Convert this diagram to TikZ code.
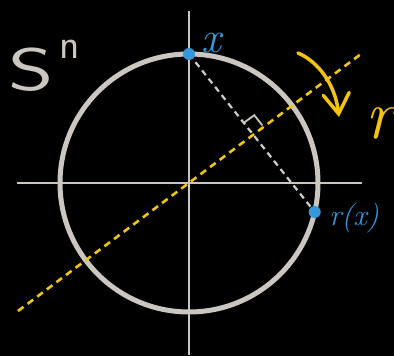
\documentclass[tikz,border=0pt]{standalone}
\usepackage{fontspec}
\usetikzlibrary{arrows.meta,calc}

\definecolor{chalk}{HTML}{CBC7C0}
\definecolor{ptblue}{HTML}{3399DD}
\definecolor{mirror}{HTML}{F2C40F}

\begin{document}
\begin{tikzpicture}[x=1pt,y=1pt,
    axis/.style={chalk,line width=2pt},
    sphere/.style={chalk,line width=5pt},
    hyper/.style={mirror,line width=2.6pt,dash pattern=on 7pt off 5pt},
    chord/.style={chalk!90!white,line width=2.2pt,dash pattern=on 6pt off 4.5pt},
    dot/.style={circle,fill=ptblue,inner sep=0pt,minimum size=12pt},
    bluelabel/.style={ptblue,inner sep=0pt,font=\itshape}]
  \fill[black] (-189,-173) rectangle (205,183);
  \useasboundingbox (-189,-173) rectangle (205,183);
  % axes
  \coordinate (O) at (0,0);
  \coordinate (W) at (-172,0);
  \coordinate (E) at (173,0);
  \coordinate (N) at (0,172);
  \coordinate (S) at (0,-172);
  \draw[axis] (W) -- (E);
  \draw[axis] (N) -- (S);
  % the sphere
  \draw[sphere] (O) circle (129);
  % reflecting hyperplane
  \coordinate (H1) at (-171,-128);
  \coordinate (H2) at (172,129);
  \draw[hyper] (H1) -- (H2);
  % x and its mirror image
  \coordinate (X) at (0,129);
  \coordinate (RX) at (-13:129);
  \draw[chord] (X) -- (RX);
  \coordinate (M) at ($(X)!0.5!(RX)$);
  \coordinate (U) at ($(M)!13pt!(X)$);
  \coordinate (V) at ($(M)!13pt!(H2)$);
  \coordinate (C) at ($(U)+(V)-(M)$);
  \draw[chalk,line width=1.8pt] (U) -- (C) -- (V);
  \node[dot] (x) at (X) {};
  \node[dot] (rx) at (RX) {};
  % labels
  \node[bluelabel] (xlab) at (22,140) {\fontsize{44}{44}\selectfont x};
  \node[bluelabel] (rxlab) at (165,-35) {\fontsize{30}{30}\selectfont r(x)};
  \node[chalk,inner sep=0pt,font=\sffamily,anchor=base west] (sn) at (-181,92)
    {\fontsize{60}{60}\selectfont\scalebox{1.45}[1]{S}\hspace{6pt}\raisebox{32pt}{\fontsize{42}{42}\selectfont n}};
  % the map r
  \coordinate (A0) at (109,130);
  \coordinate (A1) at (150,66);
  \draw[mirror,line width=3.5pt,line cap=round,
        -{Straight Barb[length=20pt,width=26pt,line cap=round]}]
    (A0) .. controls (128,122) and (146,100) .. (A1);
  \node[mirror,inner sep=0pt,anchor=west,font=\itshape] (rlab) at (176,60) {\fontsize{70}{70}\selectfont r};
\end{tikzpicture}
\end{document}
